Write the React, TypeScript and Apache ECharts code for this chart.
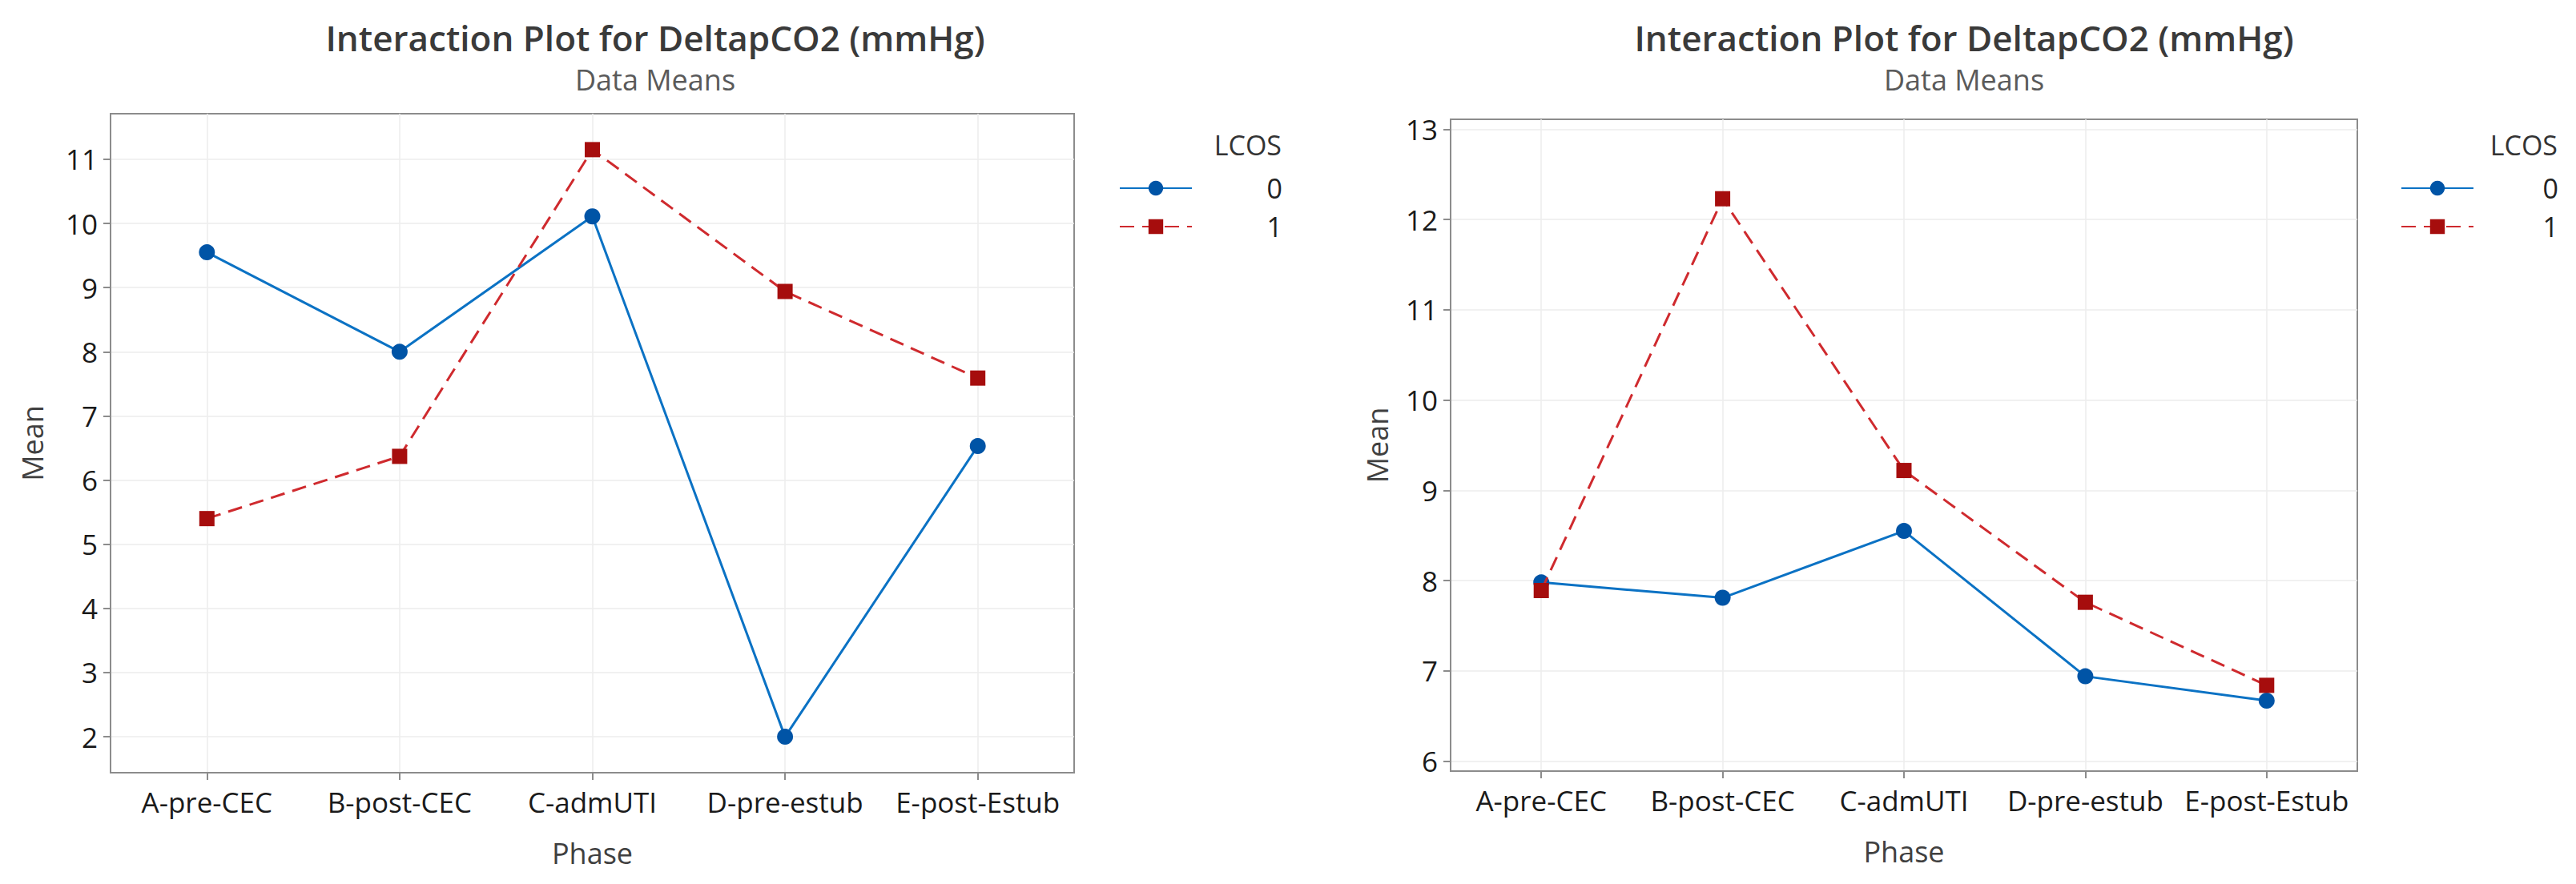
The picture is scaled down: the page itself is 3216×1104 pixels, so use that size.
import React, { useEffect, useRef } from "react";
import * as echarts from "echarts";

const phases = ["A-pre-CEC", "B-post-CEC", "C-admUTI", "D-pre-estub", "E-post-Estub"];
const leftLcos0 = [9.55, 8.0, 10.11, 2.0, 6.53];
const leftLcos1 = [5.4, 6.37, 11.15, 8.94, 7.59];
const rightLcos0 = [7.98, 7.81, 8.55, 6.94, 6.67];
const rightLcos1 = [7.89, 12.23, 9.22, 7.76, 6.84];
const leftYTicks = [2, 3, 4, 5, 6, 7, 8, 9, 10, 11];
const rightYTicks = [6, 7, 8, 9, 10, 11, 12, 13];
const leftYRange = [1.44, 11.71];
const rightYRange = [5.89, 13.11];
const legendNames = ["0", "1"];
const titleText = "Interaction Plot for DeltapCO2 (mmHg)";
const subtitleText = "Data Means";
const xName = "Phase";
const yName = "Mean";
const legendTitle = "LCOS";

const FONT = "'Open Sans', 'Noto Sans', sans-serif";
const AXIS_GRAY = "#8c8c8c";
const GRID_GRAY = "#ececec";
const BLUE_LINE = "#0b72c4";
const BLUE_MARK = "#0054a6";
const RED_LINE = "#cf2a2e";
const RED_MARK = "#a60d0d";

const panels = [
  {
    grid: { left: 138, top: 142, width: 1203, height: 823 },
    titleX: 813,
    legendX: 1397,
    legendRight: 1600,
    yNameGap: 80,
    yRange: leftYRange,
    yTicks: leftYTicks,
    s0: leftLcos0,
    s1: leftLcos1,
  },
  {
    grid: { left: 1811, top: 149, width: 1132, height: 814 },
    titleX: 2447,
    legendX: 2997,
    legendRight: 3193,
    yNameGap: 74,
    yRange: rightYRange,
    yTicks: rightYTicks,
    s0: rightLcos0,
    s1: rightLcos1,
  },
];

function buildOption() {
  const titles: any[] = [];
  const grids: any[] = [];
  const xAxes: any[] = [];
  const yAxes: any[] = [];
  const legends: any[] = [];
  const series: any[] = [];

  panels.forEach((p, i) => {
    titles.push({
      text: titleText,
      left: p.titleX,
      top: 16,
      textAlign: "center",
      textStyle: { fontFamily: FONT, fontSize: 44, fontWeight: 600, color: "#3a3a3a", lineHeight: 52 },
    });
    titles.push({
      text: subtitleText,
      left: p.titleX,
      top: 74,
      textAlign: "center",
      textStyle: { fontFamily: FONT, fontSize: 36, fontWeight: "normal", color: "#5a5a5a", lineHeight: 40 },
    });
    titles.push({
      text: legendTitle,
      left: p.legendRight,
      top: 164,
      padding: 0,
      textAlign: "right",
      textStyle: { fontFamily: FONT, fontSize: 34, fontWeight: "normal", color: "#333333", lineHeight: 34 },
    });

    grids.push({
      ...p.grid,
      show: true,
      borderColor: AXIS_GRAY,
      borderWidth: 2,
      backgroundColor: "transparent",
    });

    xAxes.push({
      type: "category",
      gridIndex: i,
      data: phases,
      boundaryGap: true,
      axisLine: { show: true, lineStyle: { color: AXIS_GRAY, width: 2 } },
      axisTick: { show: true, alignWithLabel: true, length: 9, lineStyle: { color: AXIS_GRAY, width: 2 } },
      axisLabel: { fontFamily: FONT, fontSize: 35, color: "#1a1a1a", margin: 19, interval: 0 },
      splitLine: { show: true, alignWithLabel: true, lineStyle: { color: GRID_GRAY, width: 1.5 } },
      name: xName,
      nameLocation: "middle",
      nameGap: 82,
      nameTextStyle: { fontFamily: FONT, fontSize: 36, color: "#404040" },
    });

    yAxes.push({
      type: "value",
      gridIndex: i,
      min: p.yRange[0],
      max: p.yRange[1],
      axisLine: { show: true, lineStyle: { color: AXIS_GRAY, width: 2 } },
      axisTick: { show: true, customValues: p.yTicks, length: 9, lineStyle: { color: AXIS_GRAY, width: 2 } },
      axisLabel: { customValues: p.yTicks, fontFamily: FONT, fontSize: 35, color: "#1a1a1a", margin: 16 },
      splitLine: { show: true, lineStyle: { color: GRID_GRAY, width: 1.5 } },
      name: yName,
      nameLocation: "middle",
      nameGap: p.yNameGap,
      nameTextStyle: { fontFamily: FONT, fontSize: 36, color: "#404040" },
    });

    legends.push({
      orient: "vertical",
      left: p.legendX,
      top: 218,
      padding: 0,
      itemWidth: 90,
      itemHeight: 23,
      itemGap: 14,
      selectedMode: false,
      data: legendNames,
      formatter: (n: string) => `{v|${n}}`,
      textStyle: {
        rich: {
          v: {
            width: p.legendRight - p.legendX - 95,
            align: "right",
            fontFamily: FONT,
            fontSize: 34,
            lineHeight: 34,
            color: "#222222",
          },
        },
      },
    });

    series.push({
      type: "line",
      name: legendNames[0],
      xAxisIndex: i,
      yAxisIndex: i,
      data: p.s0,
      symbol: "circle",
      symbolSize: 20,
      itemStyle: { color: BLUE_MARK },
      lineStyle: { color: BLUE_LINE, width: 3 },
      z: 3,
    });
    series.push({
      type: "line",
      name: legendNames[1],
      xAxisIndex: i,
      yAxisIndex: i,
      data: p.s1,
      symbol: "rect",
      symbolSize: 19,
      itemStyle: { color: RED_MARK },
      lineStyle: { color: RED_LINE, width: 3, type: [18, 10] },
      z: 4,
    });
  });

  return {
    animation: false,
    backgroundColor: "#ffffff",
    textStyle: { fontFamily: FONT },
    title: titles,
    grid: grids,
    xAxis: xAxes,
    yAxis: yAxes,
    legend: legends,
    series,
  };
}

export default function App() {
  const ref = useRef<HTMLDivElement>(null);
  useEffect(() => {
    if (!ref.current) return;
    const chart = echarts.init(ref.current, undefined, { renderer: "svg" });
    chart.setOption(buildOption() as any);
    return () => chart.dispose();
  }, []);
  return (
    <div
      ref={ref}
      style={{ position: "absolute", left: 0, top: 0, width: 3216, height: 1104, background: "#fff" }}
    />
  );
}
